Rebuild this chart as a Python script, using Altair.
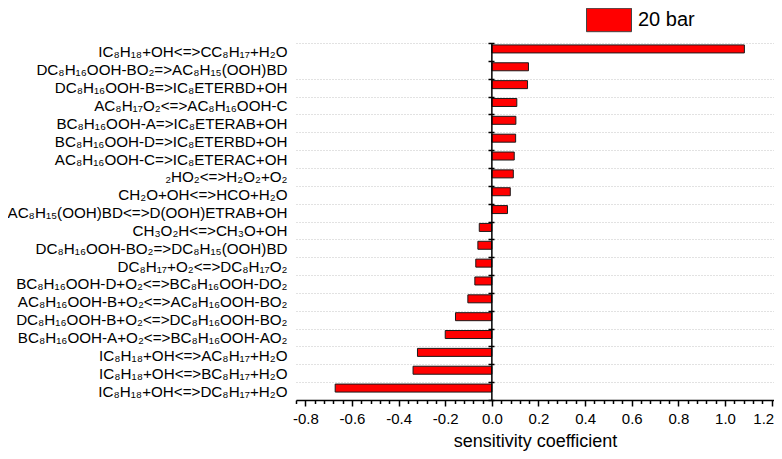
import altair as alt
import pandas as pd

reactions = [
    "IC₈H₁₈+OH<=>CC₈H₁₇+H₂O",
    "DC₈H₁₆OOH-BO₂=>AC₈H₁₅(OOH)BD",
    "DC₈H₁₆OOH-B=>IC₈ETERBD+OH",
    "AC₈H₁₇O₂<=>AC₈H₁₆OOH-C",
    "BC₈H₁₆OOH-A=>IC₈ETERAB+OH",
    "BC₈H₁₆OOH-D=>IC₈ETERBD+OH",
    "AC₈H₁₆OOH-C=>IC₈ETERAC+OH",
    "₂HO₂<=>H₂O₂+O₂",
    "CH₂O+OH<=>HCO+H₂O",
    "AC₈H₁₅(OOH)BD<=>D(OOH)ETRAB+OH",
    "CH₃O₂H<=>CH₃O+OH",
    "DC₈H₁₆OOH-BO₂=>DC₈H₁₅(OOH)BD",
    "DC₈H₁₇+O₂<=>DC₈H₁₇O₂",
    "BC₈H₁₆OOH-D+O₂<=>BC₈H₁₆OOH-DO₂",
    "AC₈H₁₆OOH-B+O₂<=>AC₈H₁₆OOH-BO₂",
    "DC₈H₁₆OOH-B+O₂<=>DC₈H₁₆OOH-BO₂",
    "BC₈H₁₆OOH-A+O₂<=>BC₈H₁₆OOH-AO₂",
    "IC₈H₁₈+OH<=>AC₈H₁₇+H₂O",
    "IC₈H₁₈+OH<=>BC₈H₁₇+H₂O",
    "IC₈H₁₈+OH<=>DC₈H₁₇+H₂O",
]

coefficients = [
    1.083, 0.157, 0.153, 0.107, 0.103, 0.102, 0.096, 0.092, 0.079, 0.067,
    -0.054, -0.060, -0.069, -0.073, -0.103, -0.156, -0.200, -0.319, -0.338, -0.672,
]

series_name = "20 bar"

x_ticks = [round(-0.84 + 0.04 * i, 2) for i in range(52)]

df = pd.DataFrame({
    "reaction": reactions,
    "coefficient": coefficients,
    "series": [series_name] * len(reactions),
})
zero_df = pd.DataFrame({"zero": [0.0]})

FONT = "Liberation Sans"
TITLE = "sensitivity coefficient"
major_test = "abs(round(datum.value*25)) % 5 == 0"

x_scale = alt.Scale(domain=[-0.84, 1.21], nice=False, zero=False)

x_axis = alt.Axis(
    title=TITLE,
    values=x_ticks,
    labelExpr=major_test + " ? (datum.value < -0.001 ? '-' : '') + format(abs(datum.value), '.1f') : ''",
    labelOverlap=False,
    labelFlush=False,
    labelAlign={"condition": {"test": "datum.value > 1.19", "value": "right"}, "value": "center"},
    labelOffset={"condition": {"test": "datum.value > 1.19", "value": 2}, "value": 0},
    labelFont=FONT,
    labelFontSize=15,
    labelColor="black",
    labelPadding=5,
    tickSize={"condition": {"test": major_test, "value": 6}, "value": 3.5},
    tickColor="black",
    tickWidth=1.5,
    domainColor="black",
    domainWidth=1.5,
    grid=False,
    titleFont=FONT,
    titleFontSize=18,
    titleFontWeight="normal",
    titleColor="black",
    titlePadding=6,
)

bars = alt.Chart(df).mark_bar(
    height=8, yOffset=-3, stroke="#1a1a1a", strokeWidth=1
).encode(
    x=alt.X("coefficient:Q", scale=x_scale, axis=x_axis),
    y=alt.Y(
        "reaction:N",
        sort=reactions,
        scale=alt.Scale(paddingInner=0, paddingOuter=0),
        axis=alt.Axis(
            title=None,
            orient="left",
            offset=-198,
            tickBand="extent",
            tickSize=6,
            tickWidth=1.5,
            tickColor="black",
            domain=False,
            grid=True,
            gridDash=[1, 2],
            gridColor="#c4c4c4",
            gridWidth=1,
            gridOpacity={"condition": {"test": "datum.value === '" + reactions[0] + "'", "value": 0}, "value": 1},
            labelPadding=201,
            labelLimit=0,
            labelFont=FONT,
            labelFontSize=15.2,
            labelColor="black",
        ),
    ),
    color=alt.Color(
        "series:N",
        scale=alt.Scale(domain=[series_name], range=["#ff0000"]),
        legend=alt.Legend(
            title=None,
            orient="none",
            legendX=290,
            legendY=-46,
            padding=0,
            symbolType="M-1,-0.52H1V0.52H-1Z",
            symbolSize=2025,
            symbolStrokeColor="#444444",
            symbolStrokeWidth=1,
            symbolOpacity=1,
            labelFont=FONT,
            labelFontSize=20,
            labelColor="black",
            labelOffset=6,
        ),
    ),
)

zero_line = alt.Chart(zero_df).mark_rule(color="black", strokeWidth=1.5).encode(
    x=alt.X("zero:Q", scale=x_scale, axis=x_axis)
)

chart = alt.layer(bars, zero_line).properties(
    width=478,
    height=357,
    autosize=alt.AutoSizeParams(type="none"),
    padding={"left": 288, "top": 35, "right": 0, "bottom": 51},
).configure_view(stroke=None)

chart.save("out.html", embed_options={"renderer": "svg", "actions": False})
